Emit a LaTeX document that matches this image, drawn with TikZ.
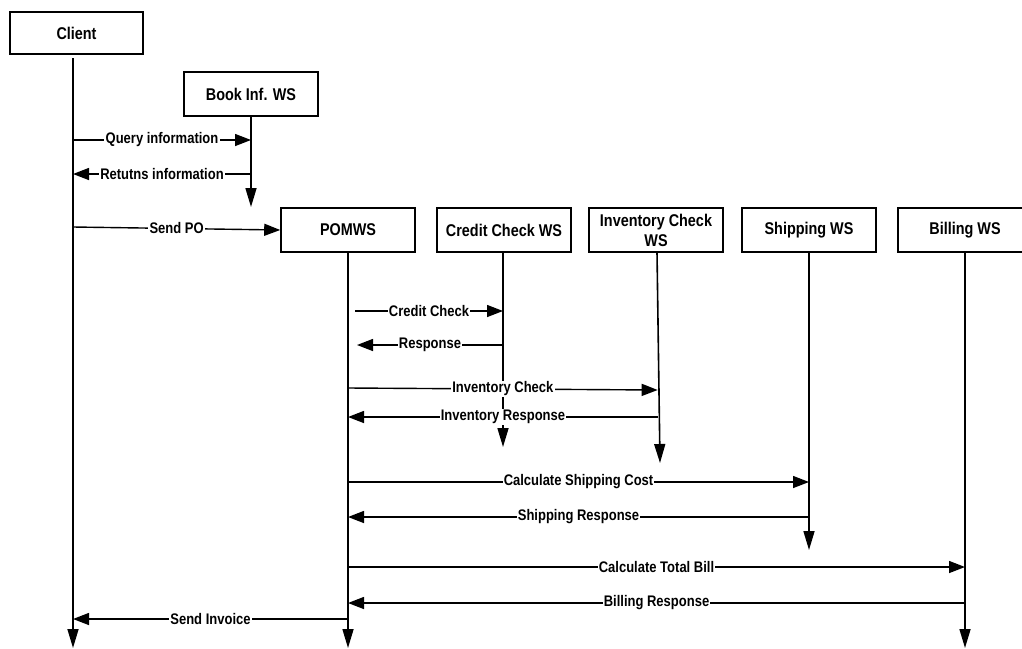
\documentclass[tikz,border=0pt]{standalone}
\usepackage{fontspec}
\setmainfont{Liberation Sans}
\usepackage{graphicx}
\usetikzlibrary{arrows.meta}
\newcommand{\vs}[1]{\scalebox{1}[1.18]{#1}}
\begin{document}
\begin{tikzpicture}[x=1pt,y=-1pt,
  actor/.style={draw, line width=1.6pt, minimum width=134pt, minimum height=44pt, inner sep=1pt,
     font=\fontsize{14.4}{15}\selectfont\bfseries, align=center},
  life/.style={line width=1.6pt, -{Triangle[length=19pt,width=11pt]}},
  msg/.style={line width=1.4pt, -{Triangle[length=16pt,width=12pt]}},
  lbl/.style={fill=white, inner sep=1.2pt, font=\fontsize{13}{13}\selectfont\bfseries, pos=0.5}
]
\useasboundingbox (0,0) rectangle (1022,648);

% actors
\node[actor, minimum width=133pt, minimum height=42pt] (client) at (76.5,33) {\vs{Client}};
\node[actor] (book) at (251,94) {\vs{Book Inf. WS}};
\node[actor] (pom) at (348,230) {\vs{POMWS}};
\node[actor] (credit) at (504,230) {\vs{Credit Check WS}};
\node[actor, font=\fontsize{14.4}{20}\selectfont\bfseries] (inv) at (656,230) {\vs{Inventory Check}\\\vs{WS}};
\node[actor] (ship) at (809,230) {\vs{Shipping WS}};
\node[actor] (bill) at (965,230) {\vs{Billing WS}};

% lifeline coordinates
\coordinate (cT) at (73,58);   \coordinate (cE) at (73,648);
\coordinate (bT) at (251,116); \coordinate (bE) at (251,207);
\coordinate (pT) at (348,252); \coordinate (pE) at (348,648);
\coordinate (crT) at (503,252); \coordinate (crE) at (503,447);
\coordinate (iT) at (657,252); \coordinate (iE) at (660,463);
\coordinate (sT) at (809,252); \coordinate (sE) at (809,550);
\coordinate (blT) at (965,252); \coordinate (blE) at (965,648);

% lifelines
\draw[life] (cT) -- (cE);
\draw[life] (bT) -- (bE);
\draw[life] (pT) -- (pE);
\draw[life] (crT) -- (crE);
\draw[life] (iT) -- (iE);
\draw[life] (sT) -- (sE);
\draw[life] (blT) -- (blE);

% message endpoints
\coordinate (q1) at (73,140);  \coordinate (q2) at (251,140);
\coordinate (r1) at (251,174); \coordinate (r2) at (73,174);
\coordinate (s1) at (73,227);
\coordinate (cc1) at (355,311); \coordinate (cc2) at (503,311);
\coordinate (rs1) at (503,345); \coordinate (rs2) at (357,345);
\coordinate (ic1) at (348,388); \coordinate (ic2) at (657.7,390);
\coordinate (ir1) at (658,417); \coordinate (ir2) at (348,417);
\coordinate (sc1) at (348,482); \coordinate (sc2) at (809,482);
\coordinate (sr1) at (809,517); \coordinate (sr2) at (348,517);
\coordinate (tb1) at (348,567); \coordinate (tb2) at (965,567);
\coordinate (br1) at (965,603); \coordinate (br2) at (348,603);
\coordinate (si1) at (348,619); \coordinate (si2) at (73,619);

% messages
\draw[msg] (q1) -- node[lbl] (lq) {\vs{Query information}} (q2);
\draw[msg] (r1) -- node[lbl] (lr) {\vs{Retutns information}} (r2);
\draw[msg] (s1) -- node[lbl] (ls) {\vs{Send PO}} (pom.west);
\draw[msg] (cc1) -- node[lbl] (lcc) {\vs{Credit Check}} (cc2);
\draw[msg] (rs1) -- node[lbl] (lrs) {\vs{Response}} (rs2);
\draw[msg] (ic1) -- node[lbl] (lic) {\vs{Inventory Check}} (ic2);
\draw[msg] (ir1) -- node[lbl] (lir) {\vs{Inventory Response}} (ir2);
\draw[msg] (sc1) -- node[lbl] (lsc) {\vs{Calculate Shipping Cost}} (sc2);
\draw[msg] (sr1) -- node[lbl] (lsr) {\vs{Shipping Response}} (sr2);
\draw[msg] (tb1) -- node[lbl] (ltb) {\vs{Calculate Total Bill}} (tb2);
\draw[msg] (br1) -- node[lbl] (lbr) {\vs{Billing Response}} (br2);
\draw[msg] (si1) -- node[lbl] (lsi) {\vs{Send Invoice}} (si2);
\end{tikzpicture}
\end{document}
